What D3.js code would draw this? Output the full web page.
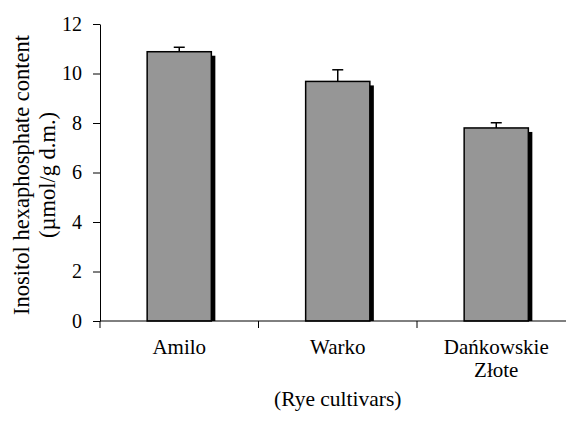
<!DOCTYPE html>
<html>
<head>
<meta charset="utf-8">
<script src="https://cdn.jsdelivr.net/npm/d3@7"></script>
<style>
  html, body { margin: 0; padding: 0; background: #fff; }
  svg text { font-family: "Liberation Serif", "DejaVu Serif", serif !important; fill: #000; }
</style>
</head>
<body>
<svg id="chart" width="566" height="422"></svg>
<script>
const categories = ["Amilo", "Warko", "Dańkowskie\nZłote"];
const values = [10.88, 9.68, 7.80];
const errors = [0.18, 0.47, 0.21];
const yTicks = [0, 2, 4, 6, 8, 10, 12];
const yLabelLines = ["Inositol hexaphosphate content", "(µmol/g d.m.)"];
const xTitle = "(Rye cultivars)";

const FONT = "'Liberation Serif', 'DejaVu Serif', serif";
const svg = d3.select("#chart");
const mLeft = 100, mRight = 575.5, mTop = 24, mBottom = 321;

const x = d3.scaleBand().domain(d3.range(categories.length)).range([mLeft, mRight]).paddingInner(0).paddingOuter(0);
const y = d3.scaleLinear().domain([0, 12]).range([mBottom, mTop]);

const barW = x.bandwidth() * 0.405;
const off = 4;

const g = svg.append("g");

// shadows
g.selectAll("rect.shadow").data(values).enter().append("rect")
  .attr("x", (d, i) => x(i) + x.bandwidth() / 2 - barW / 2 + off)
  .attr("y", d => y(d) + off)
  .attr("width", barW)
  .attr("height", d => mBottom - y(d) - off)
  .attr("fill", "#000");

// bars
g.selectAll("rect.bar").data(values).enter().append("rect")
  .attr("x", (d, i) => x(i) + x.bandwidth() / 2 - barW / 2)
  .attr("y", d => y(d))
  .attr("width", barW)
  .attr("height", d => mBottom - y(d))
  .attr("fill", "#969696")
  .attr("stroke", "#000")
  .attr("stroke-width", 1.5);

// error bars
const eb = g.selectAll("g.err").data(values).enter().append("g");
eb.append("line")
  .attr("x1", (d, i) => x(i) + x.bandwidth() / 2)
  .attr("x2", (d, i) => x(i) + x.bandwidth() / 2)
  .attr("y1", d => y(d))
  .attr("y2", (d, i) => y(d + errors[i]))
  .attr("stroke", "#000").attr("stroke-width", 1.5);
eb.append("line")
  .attr("x1", (d, i) => x(i) + x.bandwidth() / 2 - 5.5)
  .attr("x2", (d, i) => x(i) + x.bandwidth() / 2 + 5.5)
  .attr("y1", (d, i) => y(d + errors[i]))
  .attr("y2", (d, i) => y(d + errors[i]))
  .attr("stroke", "#000").attr("stroke-width", 1.5);

// y axis
const yAxis = d3.axisLeft(y).tickValues(yTicks).tickSize(7).tickPadding(11).tickSizeOuter(0);
const ya = svg.append("g").attr("transform", `translate(${mLeft},0)`).call(yAxis)
  .attr("font-family", FONT).attr("font-size", 20);
ya.selectAll("text").style("font-size", "20px").style("font-family", FONT);
ya.selectAll("line, path").attr("stroke", "#000");

// x axis
const xAxisLine = svg.append("g");
xAxisLine.append("line").attr("x1", mLeft).attr("x2", mRight).attr("y1", mBottom).attr("y2", mBottom)
  .attr("stroke", "#000").attr("stroke-width", 1);
const bounds = d3.range(categories.length + 1).map(i => i < categories.length ? x(i) : mRight);
xAxisLine.selectAll("line.t").data(bounds).enter().append("line")
  .attr("x1", d => d).attr("x2", d => d).attr("y1", mBottom).attr("y2", mBottom + 7)
  .attr("stroke", "#000");

// category labels
const cl = svg.selectAll("text.cat").data(categories).enter().append("text")
  .attr("text-anchor", "middle")
  .style("font-size", "21px").style("font-family", FONT)
  .attr("x", (d, i) => x(i) + x.bandwidth() / 2)
  .attr("y", 354);
cl.selectAll("tspan").data(d => d.split("\n")).enter().append("tspan")
  .attr("x", function() { return d3.select(this.parentNode).attr("x"); })
  .attr("dy", (d, i) => i === 0 ? 0 : 23)
  .text(d => d);

// x title
svg.append("text").attr("text-anchor", "middle").style("font-size", "21.5px").style("font-family", FONT)
  .attr("x", (mLeft + mRight) / 2).attr("y", 406).text(xTitle);

// y title
const yl = svg.append("text").attr("text-anchor", "middle").style("font-size", "22.5px").style("font-family", FONT)
  .attr("transform", "translate(29,175) rotate(-90)");
yl.selectAll("tspan").data(yLabelLines).enter().append("tspan")
  .attr("x", 0).attr("dy", (d, i) => i === 0 ? 0 : 26).text(d => d);
</script>
</body>
</html>
